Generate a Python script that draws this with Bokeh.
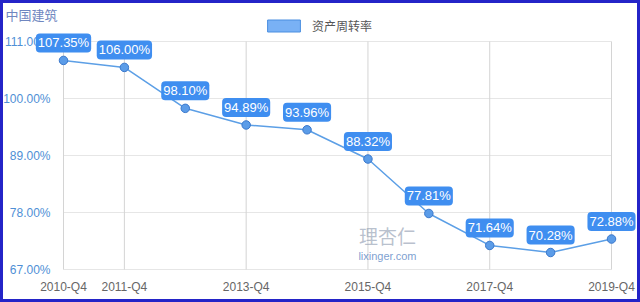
from bokeh.plotting import figure
from bokeh.models import (Range1d, FixedTicker, ColumnDataSource, Label, Legend, LegendItem)
from bokeh.embed import file_html
from bokeh.resources import INLINE

# ---- data ----
title_text = "中国建筑"
series_name = "资产周转率"
quarters = ["2010-Q4", "2011-Q4", "2012-Q4", "2013-Q4", "2014-Q4",
            "2015-Q4", "2016-Q4", "2017-Q4", "2018-Q4", "2019-Q4"]
turnover = [107.35, 106.00, 98.10, 94.89, 93.96, 88.32, 77.81, 71.64, 70.28, 72.88]
y_ticks = [67, 78, 89, 100, 111]
x_label_idx = [0, 1, 3, 5, 7, 9]

xs = list(range(len(quarters)))
labels = ["%.2f%%" % v for v in turnover]
src = ColumnDataSource(dict(x=xs, y=turnover, lab=labels))

# frame covers whole canvas; ranges chosen so data sits where the reference draws it
px_x = 548 / 9.0
px_y = 228 / 44.0
x0 = 0 - 63 / px_x
x1 = 9 + 29 / px_x
y1 = 111 + 41 / px_y
y0 = 67 - 33 / px_y

p = figure(width=640, height=302, output_backend="svg", toolbar_location=None,
           x_range=Range1d(x0, x1), y_range=Range1d(y0, y1),
           min_border=0, min_border_left=0, min_border_right=0,
           min_border_top=0, min_border_bottom=0,
           background_fill_color="white", border_fill_color="white")
p.outline_line_color = "#2424c8"
p.outline_line_width = 5

p.xgrid.visible = False
p.ygrid.visible = False

font = "Liberation Sans"

# gridlines limited to data extents
p.segment(x0=[0] * len(y_ticks), x1=[9] * len(y_ticks), y0=y_ticks, y1=y_ticks,
          line_color="#e6e6e6", line_width=1)
p.segment(x0=x_label_idx, x1=x_label_idx, y0=[67] * len(x_label_idx), y1=[111] * len(x_label_idx),
          line_color="#d4d4d4", line_width=1)

# axes at fixed locations
ya = p.yaxis[0]
ya.fixed_location = 0
ya.ticker = FixedTicker(ticks=y_ticks)
ya.major_label_overrides = {t: "%.2f%%" % t for t in y_ticks}
ya.axis_line_color = None
ya.major_tick_line_color = None
ya.minor_tick_line_color = None
ya.major_label_text_color = "#4f8fd6"
ya.major_label_text_font = font
ya.major_label_text_font_size = "12px"
ya.major_label_standoff = 7

xa = p.xaxis[0]
xa.fixed_location = 67
xa.ticker = FixedTicker(ticks=x_label_idx)
xa.major_label_overrides = {i: quarters[i] for i in x_label_idx}
xa.axis_line_color = None
xa.major_tick_line_color = None
xa.minor_tick_line_color = None
xa.major_label_text_color = "#666666"
xa.major_label_text_font = font
xa.major_label_text_font_size = "12px"
xa.major_label_standoff = 4

# line + markers
p.line("x", "y", source=src, line_color="#5c9fe6", line_width=1.5)
p.scatter("x", "y", source=src, size=8.5, fill_color="#5b9ce8", line_color="#3a78cc", line_width=1)

# value labels (rounded boxes)
for xv, yv, lab in zip(xs, turnover, labels):
    p.add_layout(Label(x=xv, y=yv, text=lab, text_align="center", text_baseline="bottom",
                       y_offset=8, text_color="white", text_font=font,
                       text_font_size="13px", background_fill_color="#3f8ef0",
                       padding=2, border_radius=4))

# title
p.add_layout(Label(x=x0 + 5 / px_x, y=y1 - 4 / px_y, text=title_text, text_baseline="top",
                   text_color="#6f86c0", text_font="Noto Sans CJK SC", text_font_size="13px"))

# watermark
p.add_layout(Label(x=5.32, y=71.0, text="理杏仁", text_align="center",
                   text_baseline="bottom", text_color="#9aa6b8", text_alpha=0.7,
                   text_font="Noto Sans CJK SC", text_font_size="19px"))
p.add_layout(Label(x=5.32, y=70.7, text="lixinger.com", text_align="center",
                   text_baseline="top", text_color="#5a86c4", text_alpha=0.8,
                   text_font=font, text_font_size="11px"))

# legend with a filled swatch
dummy = p.quad(left=[float("nan")], right=[float("nan")], top=[float("nan")],
               bottom=[float("nan")], fill_color="#79b1f5", line_color="#4a8ee0")
legend = Legend(items=[LegendItem(label=series_name, renderers=[dummy])],
                location=(263, 268), orientation="horizontal",
                glyph_width=41, glyph_height=15, label_height=15,
                label_text_font="Noto Sans CJK SC", label_text_font_size="12px",
                label_text_color="#555555", background_fill_alpha=0, border_line_color=None,
                padding=2, margin=0, label_standoff=8)
p.add_layout(legend)

open("out.html", "w").write(file_html(p, INLINE))
